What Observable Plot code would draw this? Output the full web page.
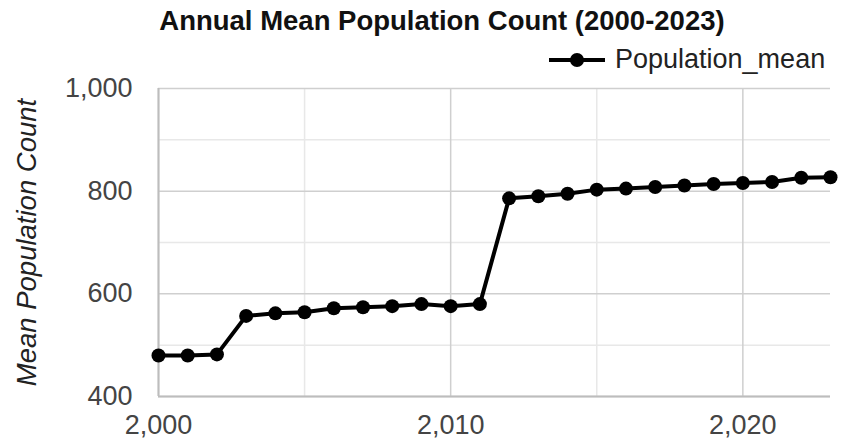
<!DOCTYPE html>
<html>
<head>
<meta charset="utf-8">
<script src="https://cdn.jsdelivr.net/npm/d3@7"></script>
<script src="https://cdn.jsdelivr.net/npm/@observablehq/plot@0.6"></script>
<style>
  html, body { margin: 0; padding: 0; background: #fff; }
  body { width: 842px; height: 443px; overflow: hidden; font-family: "Liberation Sans", Arial, sans-serif; }
  #title { height: 40px; line-height: 42px; font-weight: bold; font-size: 27.5px; color: #111; text-align: center; padding-left: 42px; box-sizing: border-box; width: 842px; white-space: nowrap; }
  #legend { height: 25px; position: relative; }
  #legend svg { position: absolute; left: 546px; top: 4px; }
  #legend span { position: absolute; left: 615px; top: 4px; font-size: 27px; color: #222; white-space: nowrap; }
</style>
</head>
<body>
<div id="title">Annual Mean Population Count (2000-2023)</div>
<div id="legend">
  <svg width="62" height="30"><line x1="3" y1="16" x2="59" y2="16" stroke="#000" stroke-width="4"/><circle cx="31" cy="16" r="7" fill="#000"/></svg>
  <span>Population_mean</span>
</div>
<div id="chart"></div>
<script>
const years = [2000,2001,2002,2003,2004,2005,2006,2007,2008,2009,2010,2011,2012,2013,2014,2015,2016,2017,2018,2019,2020,2021,2022,2023];
const populationMean = [480,480,482,557,562,564,572,574,576,580,576,580,786,790,795,803,805,808,811,814,816,818,826,827];
const yTicks = [400,600,800,1000];
const yMinor = [500,700,900];
const xTicks = [2000,2010,2020];
const xMinor = [2005,2015];

const data = years.map((y,i) => ({year: y, value: populationMean[i]}));
const fmt = d3.format(",");

const chart = Plot.plot({
  width: 842,
  height: 378,
  marginTop: 23,
  marginBottom: 47,
  marginLeft: 158,
  marginRight: 12,
  style: {fontFamily: "Liberation Sans, Arial, sans-serif", background: "transparent"},
  x: {domain: [2000, 2023]},
  y: {domain: [400, 1000]},
  marks: [
    Plot.ruleY(yMinor, {stroke: "#e8e8e8", strokeWidth: 1.5}),
    Plot.ruleX(xMinor, {stroke: "#e8e8e8", strokeWidth: 1.5}),
    Plot.ruleY(yTicks, {stroke: "#cfcfcf", strokeWidth: 1.5}),
    Plot.ruleX(xTicks, {stroke: "#cfcfcf", strokeWidth: 1.5}),
    Plot.ruleX([2000], {stroke: "#bdbdbd", strokeWidth: 2}),
    Plot.ruleY([400], {stroke: "#bdbdbd", strokeWidth: 2}),
    Plot.axisY(yTicks, {tickSize: 0, tickPadding: 26, tickFormat: fmt, fontSize: 27, fill: "#444",
      label: "Mean Population Count", labelAnchor: "center", labelArrow: "none", labelOffset: 142}),
    Plot.axisX(xTicks, {tickSize: 0, tickPadding: 18, tickFormat: fmt, fontSize: 27, fill: "#444", label: null}),
    Plot.line(data, {x: "year", y: "value", stroke: "#000", strokeWidth: 4}),
    Plot.dot(data, {x: "year", y: "value", fill: "#000", r: 7})
  ]
});
document.getElementById("chart").appendChild(chart);
chart.querySelectorAll("g[aria-label='y-axis label'] text").forEach(t => {
  t.setAttribute("font-style", "italic");
  t.setAttribute("font-size", "27.5");
  t.setAttribute("fill", "#222");
});
</script>
</body>
</html>
